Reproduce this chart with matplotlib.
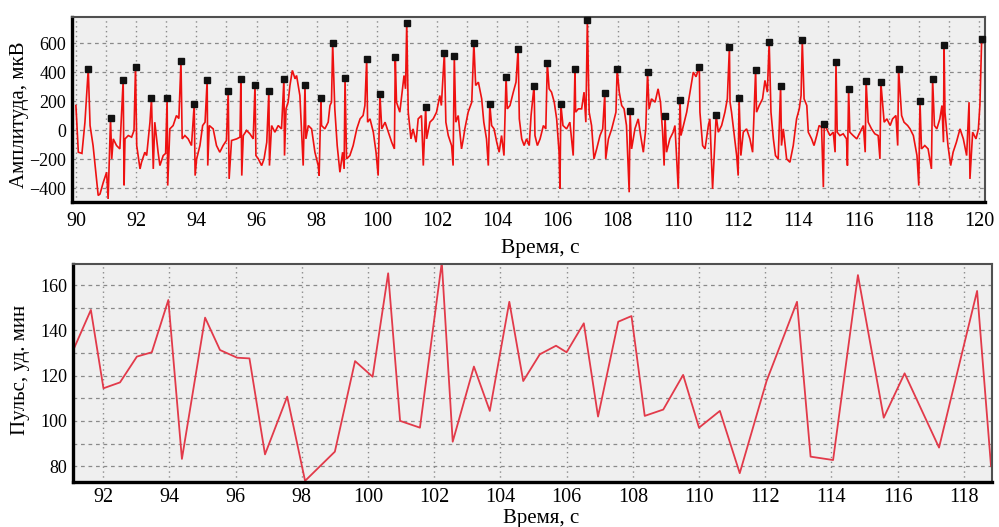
import numpy as np
import matplotlib
matplotlib.use("Agg")
import matplotlib.pyplot as plt

# ---------------- data: top panel (ECG trace) ----------------
ecg_t = [90.0, 90.08, 90.2, 90.3, 90.47, 90.57, 90.74, 90.8, 90.91, 91.02, 91.07, 91.19, 91.24, 91.35, 91.46,
         91.6, 91.63, 91.74, 91.85, 91.93, 92.02, 92.13, 92.18, 92.29, 92.35, 92.46, 92.57, 92.62, 92.73, 92.79,
         92.9, 92.98, 93.05, 93.12, 93.23, 93.34, 93.42, 93.53, 93.62, 93.73, 93.84, 93.96, 94.01, 94.12, 94.21,
         94.29, 94.38, 94.43, 94.56, 94.67, 94.78, 94.89, 95.0, 95.09, 95.17, 95.34, 95.45, 95.51, 95.56, 95.67,
         95.78, 95.89,
         95.98, 96.06, 96.17, 96.25, 96.34, 96.43, 96.5, 96.61, 96.72, 96.83, 96.93, 96.98, 97.05, 97.11, 97.19,
         97.28, 97.33, 97.44, 97.55, 97.64, 97.72, 97.83, 97.94, 98.05, 98.08, 98.16, 98.27, 98.38, 98.44, 98.49,
         98.6, 98.68, 98.77, 98.86, 98.91, 98.99, 99.1, 99.21, 99.33, 99.44, 99.54, 99.6, 99.69, 99.77, 99.88,
         99.97, 100.04, 100.16, 100.27, 100.38, 100.49, 100.58, 100.65, 100.76, 100.85, 100.9, 100.95, 101.04,
         101.13, 101.2, 101.3, 101.37, 101.48, 101.54, 101.65, 101.76, 101.87,
         101.98, 102.09, 102.14, 102.29, 102.37, 102.48, 102.53, 102.62, 102.7, 102.81, 102.87, 102.92, 103.03,
         103.15, 103.28, 103.37, 103.48, 103.55, 103.64, 103.7, 103.81, 103.89, 103.98, 104.06, 104.14, 104.22,
         104.33, 104.42, 104.53, 104.62, 104.73, 104.81, 104.89, 104.97, 105.06, 105.12, 105.25, 105.33, 105.42,
         105.53, 105.61, 105.72, 105.8, 105.89, 105.97, 106.05, 106.08, 106.18, 106.3, 106.41, 106.52, 106.6,
         106.69, 106.8, 106.88, 106.94, 107.05, 107.13, 107.21, 107.3, 107.41, 107.5, 107.6, 107.69, 107.8,
         107.94, 108.05, 108.13, 108.21, 108.29, 108.38, 108.46, 108.57, 108.68, 108.76, 108.85, 108.93, 109.04,
         109.12, 109.24, 109.34, 109.42, 109.49, 109.54, 109.62, 109.73, 109.84, 109.9, 110.01, 110.1, 110.18,
         110.29, 110.4, 110.51, 110.6, 110.73, 110.82, 110.9, 111.01, 111.06, 111.15, 111.34, 111.45, 111.56,
         111.64, 111.73, 111.78, 111.87, 111.95, 112.0, 112.09, 112.17, 112.28, 112.39, 112.48, 112.61, 112.7,
         112.81, 112.89, 112.97, 113.09, 113.17, 113.24, 113.33, 113.44, 113.5, 113.61, 113.72, 113.83,
         113.94, 114.03, 114.09, 114.19, 114.28, 114.33, 114.44, 114.52, 114.61, 114.69, 114.77, 114.83, 114.94,
         115.05, 115.16, 115.22, 115.29, 115.38, 115.49, 115.6, 115.63, 115.71, 115.82, 115.94, 116.05, 116.16,
         116.22, 116.32, 116.43, 116.54, 116.65, 116.71, 116.85, 116.94, 117.05, 117.13, 117.24, 117.3, 117.43,
         117.51, 117.63, 117.71, 117.82, 117.94, 118.0, 118.09, 118.2, 118.31, 118.42, 118.52, 118.6, 118.7,
         118.77, 118.82, 118.87, 118.97, 119.06, 119.14, 119.25, 119.37, 119.48, 119.59, 119.67, 119.7, 119.79,
         119.9, 119.98, 120.03]
ecg_a = [170, -152, -160, 55, 32, -106, -450, -440, -359, -290, -474, -198, -60, -106, -129,
         -380, -60, -37, -48, -2, -106, -267, -221, -152, -175, 55, -267, 55, -152, -244,
         -175, -160, -382, 9, 32, 101, 80, -60, -37, -60, -106, -313, -198, -106, 32,
         55, -244, 32, 9, -106, -152, -106, -71, -336, -71, -60, -48, -313, -37, -2,
         -25, -60,
         -175, -198, -244, -198, -83, -244, 32, -14, 32, 9, -175, 147, 193, 308, 412,
         354, 377, 239, -244, -60, 32, 9, -152, -244, -313, 32, 9, 55, 170, 193,
         147, -106, -290, -152, -267, -198, -175, -106, 9, 78, 101, 170, 55, 78, -14,
         -152, -313, 9, 55, -14, -83, -129, 193, 124, 285, 377, 285, 124,
         -60, 9, -83, 78, 101, -244, -60, 55, 78,
         124, 239, 170, 55, -37, -106, -244, 55, 101, -129, -60, 9, 124,
         193, 308, 331, 216, 55, -60, -244, 32, 9, -83, -152, -37, -175,
         147, 170, 262, 331, 78, -60, -106, -60, -106, 101, -37, -106, -60,
         32, 9, 285, 262, 193, 78, -150, -405, 32, 9, 55, -175, 124,
         147, 147, 262, 55, 124, 32, -198, -129, -37, 9, -198, -60, 9,
         124, 262, 170, 147, 32, -428, -129, 9, 78, -37, -152, 9, 147,
         216, 193, 285, 193, -14, -244, -152, -60, -14, 32, -405, -37, 32,
         124, 262, 400, 368, 124, -106, -129, 32, 78, -405, -14, 32, 124,
         216, 193, 124, -37, -175, -313, -175, -14, 9, -60, -152, 124, 170,
         216, 343, 262, 124, -60, -175, -198, -106, 9, -198, -221, -106,
         78, 147, 239, 216, 170, -14, -60, -106, -37, 32, 21, -393, 9,
         -37, -14, -152, -14, -37, -25, -60, -244, -14, -37, -60, -14, 32,
         -152, 55, 9, -25, -37, -198, 55, 78, 32, 78, 101, -106, 101,
         55, 32, 9, -37, -175, -382, -129, -106, -129, -267, 32, 9, 78,
         170, -83, 124, -106, -244, -152, -83, 9, -60, -175, 193, -336, -14,
         -60, 9, 170]

# detected R peaks (black markers)
peak_t = [90.41, 91.15, 91.57, 91.98, 92.51, 93.03, 93.49, 93.93, 94.36, 95.06, 95.48, 95.95, 96.41, 96.91,
          97.61, 98.14, 98.53, 98.94, 99.66, 100.10, 100.61, 100.99, 101.62, 102.24, 102.57, 103.22, 103.75,
          104.29, 104.69, 105.22, 105.66, 106.11, 106.58, 106.99, 107.57, 107.98, 108.41, 108.99, 109.57,
          110.07, 110.71, 111.27, 111.71, 112.03, 112.58, 113.03, 113.41, 114.13, 114.86, 115.25, 115.67,
          116.25, 116.74, 117.33, 118.04, 118.46, 118.84, 120.09]
peak_a = [421, 81, 345, 437, 219, 219, 476, 179, 343, 271, 356, 312, 271, 352,
          312, 219, 598, 361, 490, 246, 501, 740, 161, 533, 510, 602, 177,
          368, 561, 306, 464, 177, 423, 759, 253, 423, 131, 400, 97,
          207, 437, 103, 575, 223, 414, 609, 306, 621, 41, 467, 283,
          338, 329, 421, 200, 352, 586, 628]

# ---------------- data: bottom panel (pulse) ----------------
pulse_t = [91.0, 91.63, 92.01, 92.51, 93.02, 93.47, 93.97, 94.38, 95.08, 95.53, 96.05, 96.42, 96.89, 97.56,
           98.1, 99.0, 99.61, 100.14, 100.61, 100.97, 101.57, 102.23, 102.56, 103.2, 103.68, 104.27, 104.69,
           105.19, 105.68, 106.0, 106.52, 106.95, 107.56, 107.96, 108.36, 108.92, 109.52, 110.0, 110.63,
           111.23, 112.04, 112.96, 113.37, 114.05, 114.8, 115.58, 116.21, 117.25, 118.4, 118.82]
pulse_v = [128, 149, 114.4, 117, 128.4, 130.3, 153.4, 83.2, 145.6, 131.3, 127.9, 127.6, 85.2, 110.7,
           73.5, 86.4, 126.4, 119.5, 165.2, 100, 97, 170, 90.8, 124, 104.4, 152.6, 117.6,
           129.4, 133.2, 130.3, 143.1, 101.9, 143.8, 146.3, 102.2, 105, 120.3, 97, 104.4,
           76.9, 117.6, 152.6, 84.2, 82.7, 164.4, 101.4, 121, 88.2, 157.4, 80]

top_xticks = [90, 92, 94, 96, 98, 100, 102, 104, 106, 108, 110, 112, 114, 116, 118, 120]
top_yticks = [-400, -200, 0, 200, 400, 600]
bot_xticks = [92, 94, 96, 98, 100, 102, 104, 106, 108, 110, 112, 114, 116, 118]
bot_yticks = [80, 100, 120, 140, 160]

# ---------------- drawing ----------------
plt.rcParams['font.family'] = ['Liberation Serif', 'DejaVu Serif']
W, H = 999, 527
fig = plt.figure(figsize=(W / 100, H / 100), dpi=100)

def px_axes(l, t, r, b):
    return fig.add_axes([l / W, 1 - b / H, (r - l) / W, (b - t) / H])

bg = '#efefef'
grid_c = '#8a8a8a'

def style(ax, xpad):
    ax.set_facecolor(bg)
    for s in ('left', 'bottom'):
        ax.spines[s].set_linewidth(2.4)
        ax.spines[s].set_color('black')
    for s in ('top', 'right'):
        ax.spines[s].set_linewidth(1.5)
        ax.spines[s].set_color('#505050')
    ax.tick_params(axis='both', which='both', length=0)
    ax.tick_params(axis='x', labelsize=14.5, pad=xpad)
    ax.tick_params(axis='y', labelsize=13, pad=4)
    ax.set_axisbelow(True)

# top panel
ax1 = px_axes(72, 17, 985, 202)
style(ax1, 7)
ecg_all_t = np.concatenate([ecg_t, peak_t])
ecg_all_a = np.concatenate([ecg_a, peak_a])
order = np.argsort(ecg_all_t, kind='stable')
ax1.plot(ecg_all_t[order], ecg_all_a[order], color='#ee1111', lw=1.2, solid_joinstyle='miter')
ax1.plot(peak_t, peak_a, ls='none', marker='s', ms=5, color='#111111', clip_on=False, zorder=5)
ax1.set_xlim(89.87, 120.2)
ax1.set_ylim(-495, 780)
ax1.set_xticks(top_xticks)
ax1.set_xticks(np.arange(90, 121, 1), minor=True)
ax1.set_yticks(top_yticks)
ax1.grid(which='major', axis='y', color=grid_c, ls=(0, (3, 3)), lw=0.9)
ax1.grid(which='both', axis='x', color=grid_c, ls=(0, (1, 2.5)), lw=1.0)

# bottom panel
ax2 = px_axes(73, 264, 992, 482)
style(ax2, 4)
ax2.plot(pulse_t, pulse_v, color='#e23a4a', lw=1.3)
ax2.set_xlim(91.09, 118.85)
ax2.set_ylim(73, 169.3)
ax2.set_xticks(bot_xticks)
ax2.set_yticks(bot_yticks)
ax2.set_yticks(np.arange(80, 170, 10), minor=True)
ax2.grid(which='both', axis='y', color=grid_c, ls=(0, (3, 3)), lw=0.9)
ax2.grid(which='major', axis='x', color=grid_c, ls=(0, (1, 2.5)), lw=1.0)

# labels
fig.text(20 / W, 1 - 115 / H, 'Амплитуда, мкВ', rotation=90, ha='center', va='center', fontsize=15)
fig.text(540 / W, 1 - 249 / H, 'Время, с', ha='center', va='center', fontsize=15.5)
fig.text(21 / W, 1 - 370 / H, 'Пульс, уд. мин', rotation=90, ha='center', va='center', fontsize=15)
fig.text(541 / W, 1 - 519 / H, 'Время, с', ha='center', va='center', fontsize=15)

fig.savefig('out.png', dpi=100, facecolor='white')
